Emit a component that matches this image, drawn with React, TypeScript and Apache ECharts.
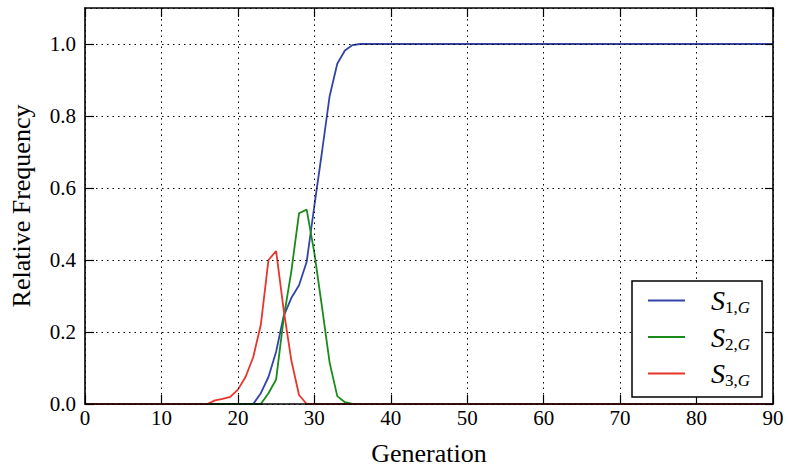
import React, { useEffect, useRef } from "react";
import * as echarts from "echarts";

// Generation (x) and relative frequency (y) values
const S1_GEN = [0, 22, 23, 24, 25, 26, 27, 28, 29, 30, 31, 32, 33, 34, 35, 36, 90];
const S1_VAL = [0, 0, 0.03, 0.075, 0.145, 0.245, 0.295, 0.33, 0.395, 0.55, 0.7, 0.855, 0.945, 0.982, 0.997, 1.0, 1.0];

const S2_GEN = [0, 23, 24, 25, 26, 27, 28, 29, 30, 31, 32, 33, 34, 35, 90];
const S2_VAL = [0, 0, 0.03, 0.068, 0.24, 0.37, 0.53, 0.54, 0.42, 0.27, 0.115, 0.022, 0.005, 0, 0];

const S3_GEN = [0, 16, 17, 18, 19, 20, 21, 22, 23, 24, 25, 26, 27, 28, 29, 90];
const S3_VAL = [0, 0, 0.01, 0.014, 0.02, 0.04, 0.075, 0.13, 0.22, 0.4, 0.425, 0.26, 0.12, 0.025, 0, 0];

const SERIES_NAMES = ["S1,G", "S2,G", "S3,G"];
const SERIES_SUBS = ["1,", "2,", "3,"];
const SERIES_COLORS = ["#3344a8", "#1a8a1a", "#e8352b"];

const X_TICKS = [0, 10, 20, 30, 40, 50, 60, 70, 80, 90];
const Y_TICKS = [0, 0.2, 0.4, 0.6, 0.8, 1.0];

const FONT = "Liberation Serif";

export default function App() {
  const ref = useRef<HTMLDivElement>(null);

  useEffect(() => {
    if (!ref.current) return;
    const chart = echarts.init(ref.current, null, { renderer: "svg" });

    const gens = [S1_GEN, S2_GEN, S3_GEN];
    const vals = [S1_VAL, S2_VAL, S3_VAL];

    const tickStyle = { inside: true, length: 9, lineStyle: { color: "#000", width: 1.2 } };
    const splitStyle = { show: true, lineStyle: { color: "#000", width: 1, type: [1.5, 4] as any } };
    const spine = { show: true, onZero: false, lineStyle: { color: "#000", width: 1.6 } };

    const option: any = {
      animation: false,
      backgroundColor: "#fff",
      grid: {
        left: 84,
        right: 16,
        top: 8,
        bottom: 62,
        show: false,
      },
      xAxis: [
        {
          type: "value",
          min: X_TICKS[0],
          max: X_TICKS[X_TICKS.length - 1],
          interval: 10,
          position: "bottom",
          z: 10,
          axisLine: spine,
          axisTick: tickStyle,
          splitLine: splitStyle,
          axisLabel: { color: "#000", fontFamily: FONT, fontSize: 21, margin: 3 },
          name: "Generation",
          nameLocation: "middle",
          nameGap: 36,
          nameTextStyle: { color: "#000", fontFamily: FONT, fontSize: 26 },
        },
        {
          type: "value",
          min: X_TICKS[0],
          max: X_TICKS[X_TICKS.length - 1],
          interval: 10,
          position: "top",
          z: 10,
          axisLine: spine,
          axisTick: tickStyle,
          splitLine: { show: false },
          axisLabel: { show: false },
        },
      ],
      yAxis: [
        {
          type: "value",
          min: Y_TICKS[0],
          max: 1.1,
          interval: 0.2,
          position: "left",
          z: 10,
          axisLine: spine,
          axisTick: tickStyle,
          splitLine: splitStyle,
          axisLabel: {
            color: "#000",
            fontFamily: FONT,
            fontSize: 21,
            margin: 9,
            showMaxLabel: false,
            formatter: (v: number) => (v > 1.05 ? "" : v.toFixed(1)),
          },
          name: "Relative Frequency",
          nameLocation: "middle",
          nameGap: 51,
          nameTextStyle: { color: "#000", fontFamily: FONT, fontSize: 26 },
        },
        {
          type: "value",
          min: Y_TICKS[0],
          max: 1.1,
          interval: 0.2,
          position: "right",
          z: 10,
          axisLine: spine,
          axisTick: { ...tickStyle, length: 8 },
          splitLine: { show: false },
          axisLabel: { show: false },
        },
      ],
      legend: {
        orient: "vertical",
        left: 632,
        top: 281,
        padding: [4, 12, 8, 16],
        itemGap: 5.5,
        itemWidth: 37,
        itemHeight: 2,
        icon: "rect",
        borderColor: "#000",
        borderWidth: 1.5,
        borderRadius: 0,
        backgroundColor: "#fff",
        z: 20,
        data: SERIES_NAMES,
        formatter: (name: string) => {
          const i = SERIES_NAMES.indexOf(name);
          return "{s|S}{n|" + SERIES_SUBS[i] + "}{g|G}";
        },
        textStyle: {
          fontFamily: FONT,
          color: "#000",
          rich: {
            s: { fontFamily: FONT, fontSize: 28, fontStyle: "italic", lineHeight: 26, padding: [0, 0, 0, 21], color: "#000" },
            n: { fontFamily: FONT, fontSize: 17, lineHeight: 17, padding: [14, 0, 0, 0], color: "#000" },
            g: { fontFamily: FONT, fontSize: 17, fontStyle: "italic", lineHeight: 17, padding: [14, 0, 0, 0], color: "#000" },
          },
        },
      },
      series: SERIES_NAMES.map((name, i) => ({
        name,
        type: "line",
        xAxisIndex: 0,
        yAxisIndex: 0,
        data: gens[i].map((g, k) => [g, vals[i][k]]),
        showSymbol: false,
        symbol: "none",
        lineStyle: { color: SERIES_COLORS[i], width: 1.8 },
        itemStyle: { color: SERIES_COLORS[i] },
        z: 2 + i,
      })),
    };

    chart.setOption(option);
    return () => chart.dispose();
  }, []);

  return (
    <div
      ref={ref}
      style={{ position: "fixed", left: 0, top: 0, width: 789, height: 471, background: "#fff" }}
    />
  );
}
